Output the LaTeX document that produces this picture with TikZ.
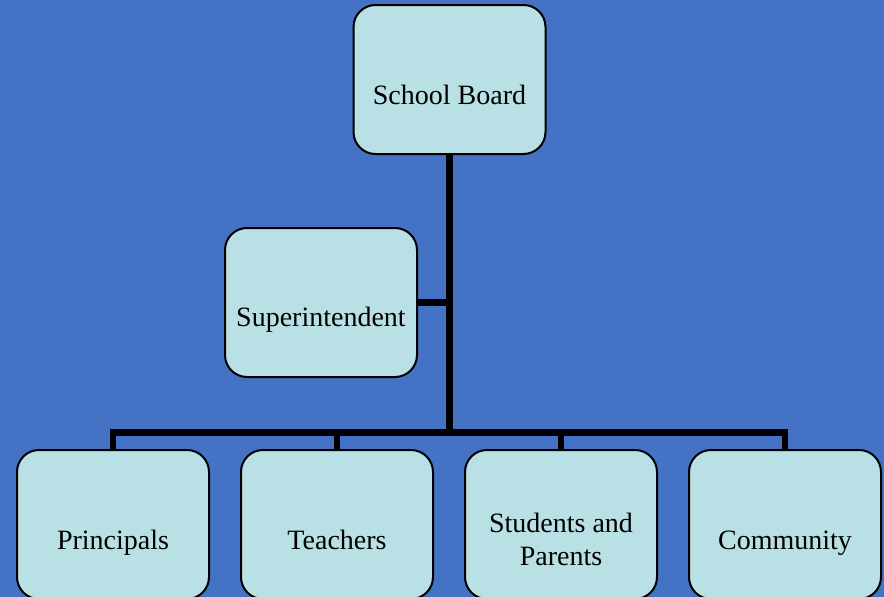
\documentclass[tikz,border=0pt]{standalone}
\usepackage{fontspec}
\setmainfont{Liberation Serif}
\definecolor{bgblue}{RGB}{68,114,196}
\definecolor{boxfill}{RGB}{185,224,228}
\begin{document}
\begin{tikzpicture}[x=1pt,y=-1pt,
  orgbox/.style={draw=black, line width=2pt, fill=boxfill, rounded corners=22pt,
    minimum width=192pt, minimum height=149pt, inner sep=0pt},
  orgtext/.style={font=\fontsize{28}{32.5}\selectfont, align=center, inner sep=0pt, anchor=base},
  link/.style={draw=black, line width=6.5pt, line join=miter}]
  \fill[bgblue] (0,0) rectangle (884,597);
  \useasboundingbox (0,0) rectangle (884,597);
  \clip (0,0) rectangle (884,597);
  % connectors
  \coordinate (j) at (449.5,432.5);
  % boxes
  \node[orgbox] (sb) at (449.5,79.5) {};
  \node[orgbox] (sup) at (321,302.5) {};
  \node[orgbox] (pr) at (113,524.5) {};
  \node[orgbox] (te) at (337,524.5) {};
  \node[orgbox] (st) at (561,524.5) {};
  \node[orgbox] (co) at (785,524.5) {};
  % texts
  \node[orgtext] (sbt) at (449.5,104) {School Board};
  \node[orgtext] (supt) at (321,326) {Superintendent};
  \node[orgtext] (prt) at (113,549) {Principals};
  \node[orgtext] (tet) at (337,549) {Teachers};
  \node[orgtext] (stt) at (561,565) {Students and\\Parents};
  \node[orgtext] (cot) at (785,549) {Community};
  \draw[link] (sb.south) -- (j);
  \draw[link] (sup.east) -- (sup.east -| j);
  \draw[link] (pr.north) -- (pr.north |- j) -- (co.north |- j) -- (co.north);
  \draw[link] (te.north) -- (te.north |- j);
  \draw[link] (st.north) -- (st.north |- j);
\end{tikzpicture}
\end{document}
